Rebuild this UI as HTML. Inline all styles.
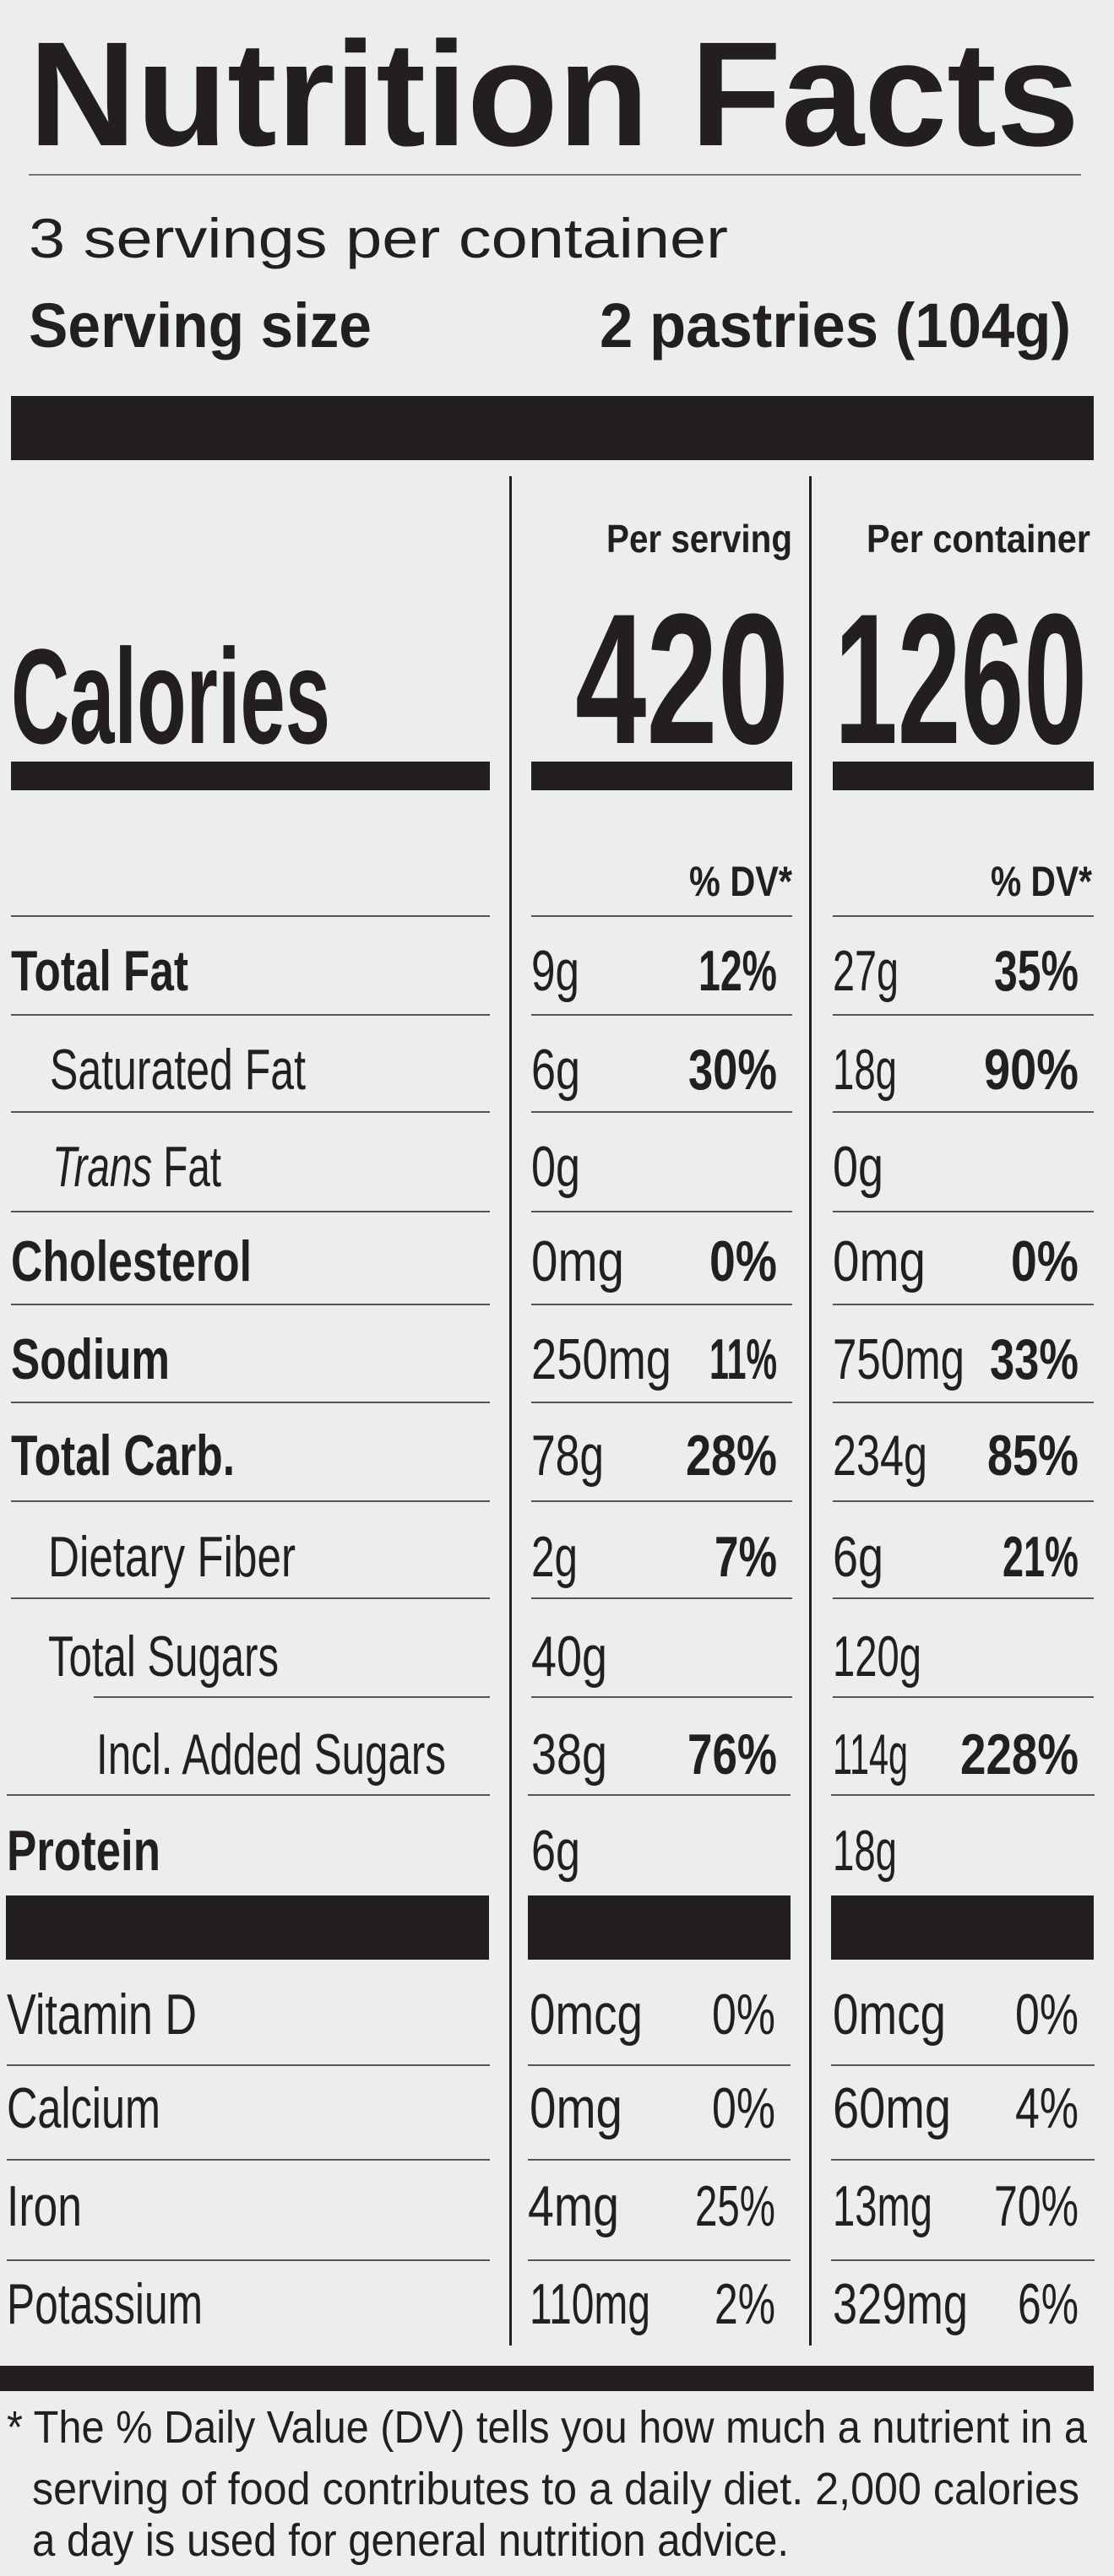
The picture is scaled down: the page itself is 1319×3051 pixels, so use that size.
<!DOCTYPE html>
<html><head><meta charset="utf-8"><style>
html,body{margin:0;padding:0;background:#eceeed;}
svg{display:block;}
text{font-family:"Liberation Sans",sans-serif;fill:#231f1f;}
.b{font-weight:bold;}
</style></head><body>
<svg width="1319" height="3051" viewBox="0 0 1319 3051" xmlns="http://www.w3.org/2000/svg">
<rect width="1319" height="3051" fill="#eceeed"/>
<g fill="#231f1f">
<text class="b" x="34" y="172" font-size="176" textLength="1244" lengthAdjust="spacingAndGlyphs" style="font-weight:900">Nutrition Facts</text>
<rect x="34" y="206" width="1246" height="2" fill="#777"/>
<text x="34" y="305" font-size="66" textLength="828" lengthAdjust="spacingAndGlyphs">3 servings per container</text>
<text class="b" x="34" y="411" font-size="74" textLength="406" lengthAdjust="spacingAndGlyphs">Serving size</text>
<text class="b" x="1268" y="411" font-size="74" text-anchor="end" textLength="558" lengthAdjust="spacingAndGlyphs">2 pastries (104g)</text>
<rect x="13" y="469" width="1282" height="76"/>
<rect x="603" y="564" width="3" height="2214"/>
<rect x="958" y="564" width="3" height="2214"/>
<text class="b" x="938" y="654" font-size="46" text-anchor="end" textLength="220" lengthAdjust="spacingAndGlyphs">Per serving</text>
<text class="b" x="1291" y="654" font-size="46" text-anchor="end" textLength="265" lengthAdjust="spacingAndGlyphs">Per container</text>
<text class="b" x="13" y="880" font-size="160" textLength="378" lengthAdjust="spacingAndGlyphs">Calories</text>
<text class="b" x="934" y="880" font-size="220" text-anchor="end" textLength="253" lengthAdjust="spacingAndGlyphs">420</text>
<text class="b" x="1287" y="880" font-size="220" text-anchor="end" textLength="299" lengthAdjust="spacingAndGlyphs">1260</text>
<rect x="13" y="902" width="567" height="34"/>
<rect x="629" y="902" width="309" height="34"/>
<rect x="986" y="902" width="309" height="34"/>
<text class="b" x="938" y="1061" font-size="50" text-anchor="end" textLength="122" lengthAdjust="spacingAndGlyphs">% DV*</text>
<text class="b" x="1293" y="1061" font-size="50" text-anchor="end" textLength="120" lengthAdjust="spacingAndGlyphs">% DV*</text>
</g>
<g fill="#555">
<!-- row lines -->
<rect x="13" y="1084" width="567" height="2"/><rect x="629" y="1084" width="309" height="2"/><rect x="986" y="1084" width="309" height="2"/>
<rect x="13" y="1201" width="567" height="2"/><rect x="629" y="1201" width="309" height="2"/><rect x="986" y="1201" width="309" height="2"/>
<rect x="13" y="1316" width="567" height="2"/><rect x="629" y="1316" width="309" height="2"/><rect x="986" y="1316" width="309" height="2"/>
<rect x="13" y="1434" width="567" height="2"/><rect x="629" y="1434" width="309" height="2"/><rect x="986" y="1434" width="309" height="2"/>
<rect x="13" y="1544" width="567" height="2"/><rect x="629" y="1544" width="309" height="2"/><rect x="986" y="1544" width="309" height="2"/>
<rect x="13" y="1660" width="567" height="2"/><rect x="629" y="1660" width="309" height="2"/><rect x="986" y="1660" width="309" height="2"/>
<rect x="13" y="1777" width="567" height="2"/><rect x="629" y="1777" width="309" height="2"/><rect x="986" y="1777" width="309" height="2"/>
<rect x="13" y="1892" width="567" height="2"/><rect x="629" y="1892" width="309" height="2"/><rect x="986" y="1892" width="309" height="2"/>
<rect x="111" y="2009" width="469" height="2"/><rect x="629" y="2009" width="309" height="2"/><rect x="986" y="2009" width="309" height="2"/>
<rect x="8" y="2125" width="572" height="2"/><rect x="625" y="2125" width="311" height="2"/><rect x="984" y="2125" width="312" height="2"/>
<rect x="8" y="2445" width="572" height="2"/><rect x="625" y="2445" width="311" height="2"/><rect x="984" y="2445" width="312" height="2"/>
<rect x="8" y="2557" width="572" height="2"/><rect x="625" y="2557" width="311" height="2"/><rect x="984" y="2557" width="312" height="2"/>
<rect x="8" y="2676" width="572" height="2"/><rect x="625" y="2676" width="311" height="2"/><rect x="984" y="2676" width="312" height="2"/>
</g>
<g fill="#231f1f">
<rect x="7" y="2245" width="572" height="76"/>
<rect x="625" y="2245" width="311" height="76"/>
<rect x="984" y="2245" width="311" height="76"/>
<rect x="0" y="2802" width="1295" height="30"/>
</g>
<g font-size="68">
<!-- labels -->
<text class="b" x="13" y="1173" textLength="210" lengthAdjust="spacingAndGlyphs">Total Fat</text>
<text x="59" y="1290" textLength="303" lengthAdjust="spacingAndGlyphs">Saturated Fat</text>
<text x="62" y="1405" textLength="200" lengthAdjust="spacingAndGlyphs"><tspan font-style="italic">Trans</tspan> Fat</text>
<text class="b" x="13" y="1517" textLength="285" lengthAdjust="spacingAndGlyphs">Cholesterol</text>
<text class="b" x="13" y="1633" textLength="188" lengthAdjust="spacingAndGlyphs">Sodium</text>
<text class="b" x="13" y="1747" textLength="265" lengthAdjust="spacingAndGlyphs">Total Carb.</text>
<text x="57" y="1867" textLength="293" lengthAdjust="spacingAndGlyphs">Dietary Fiber</text>
<text x="57" y="1985" textLength="273" lengthAdjust="spacingAndGlyphs">Total Sugars</text>
<text x="114" y="2101" textLength="414" lengthAdjust="spacingAndGlyphs">Incl. Added Sugars</text>
<text class="b" x="8" y="2215" textLength="182" lengthAdjust="spacingAndGlyphs">Protein</text>
<text x="8" y="2409" textLength="225" lengthAdjust="spacingAndGlyphs">Vitamin D</text>
<text x="8" y="2520" textLength="182" lengthAdjust="spacingAndGlyphs">Calcium</text>
<text x="8" y="2636" textLength="89" lengthAdjust="spacingAndGlyphs">Iron</text>
<text x="8" y="2752" textLength="232" lengthAdjust="spacingAndGlyphs">Potassium</text>
<!-- mid amounts -->
<text x="629" y="1173" textLength="57" lengthAdjust="spacingAndGlyphs">9g</text>
<text x="629" y="1290" textLength="58" lengthAdjust="spacingAndGlyphs">6g</text>
<text x="629" y="1405" textLength="58" lengthAdjust="spacingAndGlyphs">0g</text>
<text x="629" y="1517" textLength="110" lengthAdjust="spacingAndGlyphs">0mg</text>
<text x="629" y="1633" textLength="166" lengthAdjust="spacingAndGlyphs">250mg</text>
<text x="629" y="1747" textLength="86" lengthAdjust="spacingAndGlyphs">78g</text>
<text x="629" y="1867" textLength="55" lengthAdjust="spacingAndGlyphs">2g</text>
<text x="629" y="1985" textLength="90" lengthAdjust="spacingAndGlyphs">40g</text>
<text x="629" y="2101" textLength="90" lengthAdjust="spacingAndGlyphs">38g</text>
<text x="629" y="2215" textLength="58" lengthAdjust="spacingAndGlyphs">6g</text>
<text x="627" y="2409" textLength="134" lengthAdjust="spacingAndGlyphs">0mcg</text>
<text x="627" y="2520" textLength="110" lengthAdjust="spacingAndGlyphs">0mg</text>
<text x="625" y="2636" textLength="108" lengthAdjust="spacingAndGlyphs">4mg</text>
<text x="627" y="2752" textLength="143" lengthAdjust="spacingAndGlyphs">110mg</text>
<!-- right amounts -->
<text x="986" y="1173" textLength="78" lengthAdjust="spacingAndGlyphs">27g</text>
<text x="986" y="1290" textLength="76" lengthAdjust="spacingAndGlyphs">18g</text>
<text x="986" y="1405" textLength="60" lengthAdjust="spacingAndGlyphs">0g</text>
<text x="986" y="1517" textLength="110" lengthAdjust="spacingAndGlyphs">0mg</text>
<text x="986" y="1633" textLength="156" lengthAdjust="spacingAndGlyphs">750mg</text>
<text x="986" y="1747" textLength="112" lengthAdjust="spacingAndGlyphs">234g</text>
<text x="986" y="1867" textLength="60" lengthAdjust="spacingAndGlyphs">6g</text>
<text x="986" y="1985" textLength="105" lengthAdjust="spacingAndGlyphs">120g</text>
<text x="986" y="2101" textLength="89" lengthAdjust="spacingAndGlyphs">114g</text>
<text x="986" y="2215" textLength="76" lengthAdjust="spacingAndGlyphs">18g</text>
<text x="986" y="2409" textLength="134" lengthAdjust="spacingAndGlyphs">0mcg</text>
<text x="986" y="2520" textLength="140" lengthAdjust="spacingAndGlyphs">60mg</text>
<text x="986" y="2636" textLength="118" lengthAdjust="spacingAndGlyphs">13mg</text>
<text x="986" y="2752" textLength="160" lengthAdjust="spacingAndGlyphs">329mg</text>
<!-- mid pct -->
<g text-anchor="end">
<text class="b" x="920" y="1173" textLength="93" lengthAdjust="spacingAndGlyphs">12%</text>
<text class="b" x="920" y="1290" textLength="105" lengthAdjust="spacingAndGlyphs">30%</text>
<text class="b" x="920" y="1517" textLength="80" lengthAdjust="spacingAndGlyphs">0%</text>
<text class="b" x="920" y="1633" textLength="80" lengthAdjust="spacingAndGlyphs">11%</text>
<text class="b" x="920" y="1747" textLength="108" lengthAdjust="spacingAndGlyphs">28%</text>
<text class="b" x="920" y="1867" textLength="74" lengthAdjust="spacingAndGlyphs">7%</text>
<text class="b" x="920" y="2101" textLength="106" lengthAdjust="spacingAndGlyphs">76%</text>
<text x="918" y="2409" textLength="75" lengthAdjust="spacingAndGlyphs">0%</text>
<text x="918" y="2520" textLength="75" lengthAdjust="spacingAndGlyphs">0%</text>
<text x="918" y="2636" textLength="95" lengthAdjust="spacingAndGlyphs">25%</text>
<text x="918" y="2752" textLength="72" lengthAdjust="spacingAndGlyphs">2%</text>
<text class="b" x="1277" y="1173" textLength="100" lengthAdjust="spacingAndGlyphs">35%</text>
<text class="b" x="1277" y="1290" textLength="112" lengthAdjust="spacingAndGlyphs">90%</text>
<text class="b" x="1277" y="1517" textLength="80" lengthAdjust="spacingAndGlyphs">0%</text>
<text class="b" x="1277" y="1633" textLength="105" lengthAdjust="spacingAndGlyphs">33%</text>
<text class="b" x="1277" y="1747" textLength="108" lengthAdjust="spacingAndGlyphs">85%</text>
<text class="b" x="1277" y="1867" textLength="90" lengthAdjust="spacingAndGlyphs">21%</text>
<text class="b" x="1277" y="2101" textLength="140" lengthAdjust="spacingAndGlyphs">228%</text>
<text x="1277" y="2409" textLength="75" lengthAdjust="spacingAndGlyphs">0%</text>
<text x="1277" y="2520" textLength="75" lengthAdjust="spacingAndGlyphs">4%</text>
<text x="1277" y="2636" textLength="100" lengthAdjust="spacingAndGlyphs">70%</text>
<text x="1277" y="2752" textLength="72" lengthAdjust="spacingAndGlyphs">6%</text>
</g>
</g>
<g font-size="54">
<text x="8" y="2893" textLength="1279" lengthAdjust="spacingAndGlyphs">* The % Daily Value (DV) tells you how much a nutrient in a</text>
<text x="38" y="2966" textLength="1240" lengthAdjust="spacingAndGlyphs">serving of food contributes to a daily diet. 2,000 calories</text>
<text x="38" y="3027" textLength="896" lengthAdjust="spacingAndGlyphs">a day is used for general nutrition advice.</text>
</g>
</svg>
</body></html>
